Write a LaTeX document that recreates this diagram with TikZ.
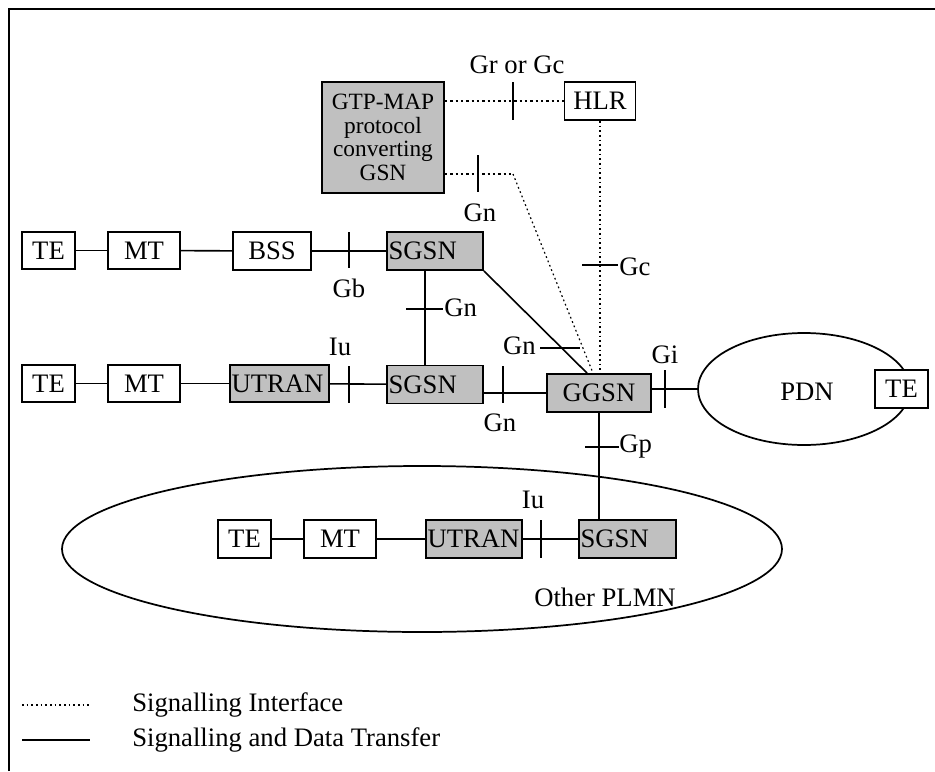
\documentclass[tikz,border=0pt]{standalone}
\usepackage{fontspec}
\setmainfont{Liberation Serif}
\usetikzlibrary{shapes.geometric,calc}
\definecolor{gsngray}{HTML}{C0C0C0}
\begin{document}
\begin{tikzpicture}[x=0.75pt,y=-0.75pt,
  font=\fontsize{20}{18}\selectfont,
  box/.style={draw, line width=1.4pt, minimum height=28.5pt, inner sep=0pt, fill=white},
  gbox/.style={box, fill=gsngray},
  lbox/.style={gbox, align=left, inner xsep=1.2pt},
  conn/.style={line width=1.2pt},
  tick/.style={line width=1.2pt},
  sig/.style={line width=1.2pt, dash pattern=on 1.8pt off 2.2pt},
  sigfine/.style={line width=0.9pt, dash pattern=on 1.3pt off 2.2pt},
  lbl/.style={inner sep=0pt},
  cloud/.style={ellipse, draw, line width=1.3pt, inner sep=0pt}]
\useasboundingbox (0,0) rectangle (935,771);
% frame
\draw[line width=1.3pt] (9,771) -- (9,9) -- (935,9);

% clouds
\node[cloud, minimum width=159pt, minimum height=84pt] (pdn) at (804,389) {};
\node[lbl] (pdnlbl) at (807,392) {PDN};
\node[cloud, minimum width=540pt, minimum height=124.5pt] (plmn) at (422,549) {};
\node[lbl] (plmnlbl) at (605,597) {Other PLMN};

% row 1
\node[box, minimum width=39.75pt, minimum height=27.75pt] (te1) at (48.5,250.5) {TE};
\node[box, minimum width=54pt, minimum height=27.75pt] (mt1) at (144,250.5) {MT};
\node[box, minimum width=58.5pt] (bss) at (272,251) {BSS};
\node[lbox, text width=69.6pt] (sgsn1) at (435,251) {SGSN};

% row 2
\node[box, minimum width=39.75pt, minimum height=27.75pt] (te2) at (48.5,383.5) {TE};
\node[box, minimum width=54pt, minimum height=27.75pt] (mt2) at (144,383.5) {MT};
\node[lbox, text width=71.85pt, minimum height=27.75pt] (utran2) at (279.5,383.5) {UTRAN};
\node[lbox, text width=69.6pt] (sgsn2) at (435,384.5) {SGSN};
\node[gbox, minimum width=78pt] (ggsn) at (599,393) {GGSN};
\node[box, minimum width=39.75pt] (te4) at (901.5,389) {TE};

% top
\node[gbox, minimum width=91.5pt, minimum height=83.25pt, align=center,
      font=\fontsize{17.5}{17.8}\selectfont] (gtp) at (383,137.5) {GTP-MAP\\protocol\\converting\\GSN};
\node[box, minimum width=53.25pt] (hlr) at (600,101) {HLR};

% row 3
\node[box, minimum width=39.75pt] (te3) at (244.5,539) {TE};
\node[box, minimum width=54pt] (mt3) at (340,539) {MT};
\node[lbox, text width=69.6pt] (utran3) at (474,539) {UTRAN};
\node[lbox, text width=70.35pt] (sgsn3) at (627.5,539) {SGSN};

% row 1 connectors
\draw[conn] (te1) -- (mt1);
\draw[conn] (mt1) -- (bss);
\draw[conn] (bss) -- (sgsn1);
\draw[tick] (349,232) -- (349,268);
\node[lbl] (gb) at (349,288) {Gb};

% SGSN1 - SGSN2
\coordinate (vx) at (425,0);
\draw[conn] (sgsn1.south -| vx) -- (sgsn2.north -| vx);
\draw[tick] (406,309) -- (443,309);
\node[lbl, anchor=west] (gn1) at (444,308) {Gn};

% SGSN1 - GGSN
\draw[conn] (sgsn1.south east) -- ([xshift=-9pt]ggsn.north);
\draw[tick] (540,348) -- (580,348);
\node[lbl, anchor=east] (gn2) at (536,346) {Gn};

% row 2 connectors
\draw[conn] (te2) -- (mt2);
\draw[conn] (mt2) -- (utran2);
\draw[conn] (utran2) -- (sgsn2);
\draw[tick] (349,366) -- (349,403);
\node[lbl] (iu1) at (340,347) {Iu};
\draw[conn] (sgsn2.east |- ggsn.west) -- (ggsn.west);
\draw[tick] (503,366) -- (503,403);
\node[lbl] (gn3) at (500,423) {Gn};
\draw[conn] (ggsn.east |- pdn.west) -- (pdn.west);
\draw[tick] (665,370) -- (665,408);
\node[lbl] (gi) at (665,355) {Gi};

% GGSN - SGSN3
\draw[conn] (ggsn.south) -- (ggsn.south |- sgsn3.north);
\draw[tick] (585,447) -- (619,447);
\node[lbl, anchor=west] (gp) at (619,447) {Gp};

% row 3 connectors
\draw[conn] (te3) -- (mt3);
\draw[conn] (mt3) -- (utran3);
\draw[conn] (utran3) -- (sgsn3);
\draw[tick] (541,520) -- (541,558);
\node[lbl] (iu2) at (533,500) {Iu};

% signalling
\draw[sig] (gtp.east |- hlr.west) -- (hlr.west);
\draw[tick] (513,82) -- (513,120);
\node[lbl] (grgc) at (517,65) {Gr or Gc};
\coordinate (bend) at (513,174);
\draw[sig] (gtp.east |- bend) -- (bend);
\draw[sigfine] (bend) -- ([xshift=-4.5pt]ggsn.north);
\draw[tick] (478,155) -- (478,192);
\node[lbl] (gn4) at (480,213) {Gn};
\draw[sigfine] (hlr.south) -- (hlr.south |- ggsn.north);
\draw[tick] (582,265) -- (618,265);
\node[lbl, anchor=west] (gc) at (619,267) {Gc};

% legend
\coordinate (l1a) at (22,705);
\coordinate (l1b) at (90,705);
\coordinate (l2a) at (22,740);
\coordinate (l2b) at (90,740);
\draw[sigfine] (l1a) -- (l1b);
\draw[conn] (l2a) -- (l2b);
\node[lbl, anchor=west] (leg1) at (132,705) {Signalling Interface};
\node[lbl, anchor=west] (leg2) at (132,740) {Signalling and Data Transfer};
\end{tikzpicture}
\end{document}
